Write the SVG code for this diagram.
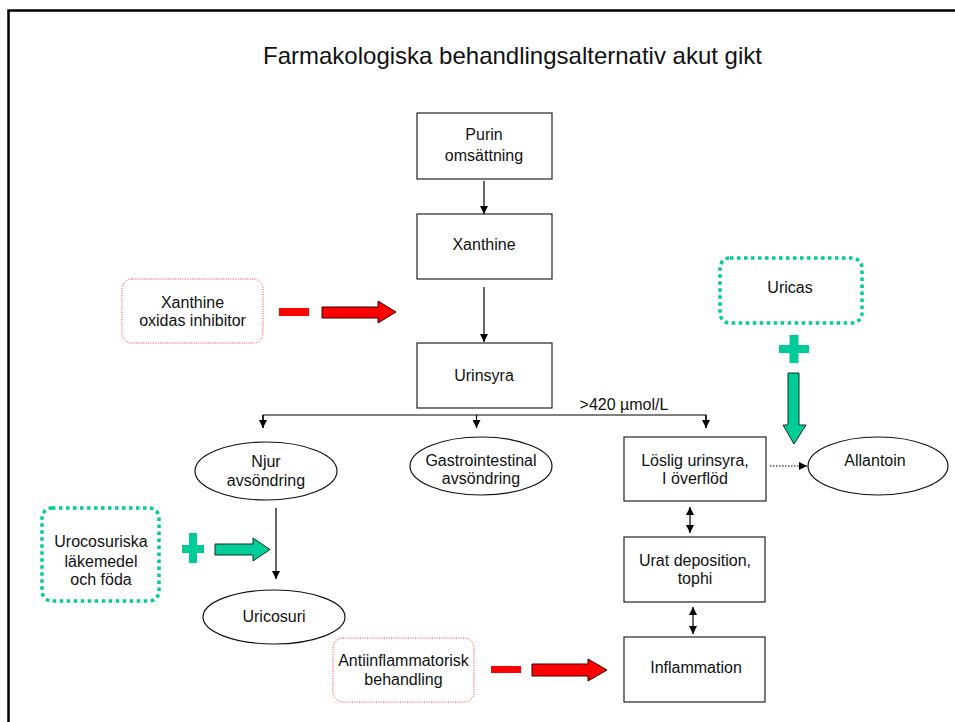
<svg xmlns="http://www.w3.org/2000/svg" width="955" height="722" viewBox="0 0 955 722">
<defs>
<marker id="ah" markerUnits="userSpaceOnUse" markerWidth="8" markerHeight="8" refX="8" refY="4" orient="auto">
<path d="M0,0 L8,4 L0,8 z" fill="#000"/>
</marker>
<marker id="ahs" markerUnits="userSpaceOnUse" markerWidth="8" markerHeight="8" refX="0" refY="4" orient="auto">
<path d="M8,0 L0,4 L8,8 z" fill="#000"/>
</marker>
</defs>
<style>
text{font-family:"Liberation Sans",Arial,sans-serif;font-size:16px;fill:#111;text-anchor:middle}
.title{font-size:24px}
.box{fill:#fff;stroke:#222;stroke-width:1.2}
.ell{fill:#fff;stroke:#111;stroke-width:1.2}
.conn{fill:none;stroke:#000;stroke-width:1.2}
.redbox{fill:#fff;stroke:#f55;stroke-width:1;stroke-dasharray:1.2 1.2}
.grnbox{fill:#fff;stroke:#00cc99;stroke-width:3.5;stroke-dasharray:3.5 3.5}
.red{fill:#ff0000}
.redarrow{fill:#ff0000;stroke:#330000;stroke-width:1}
.grn{fill:#00cc99}
.grnarrow{fill:#00cc99;stroke:#113322;stroke-width:1}
</style>
<rect x="0" y="0" width="955" height="722" fill="#fff"/>
<rect x="8.5" y="10.5" width="1000" height="800" fill="none" stroke="#000" stroke-width="2.5"/>
<text class="title" x="512.5" y="64">Farmakologiska behandlingsalternativ akut gikt</text>

<g id="connectors">
<line class="conn" x1="484" y1="181" x2="484" y2="214" marker-end="url(#ah)"/>
<line class="conn" x1="484" y1="287" x2="484" y2="342" marker-end="url(#ah)"/>
<polyline class="conn" points="263,428 263,415 706,415 706,428"/>
<line class="conn" x1="263" y1="415" x2="263" y2="428" marker-end="url(#ah)"/>
<line class="conn" x1="476.5" y1="415" x2="476.5" y2="428" marker-end="url(#ah)"/>
<line class="conn" x1="706" y1="415" x2="706" y2="428" marker-end="url(#ah)"/>
<line class="conn" x1="276" y1="508" x2="276" y2="579" marker-end="url(#ah)"/>
<line class="conn" x1="770" y1="466" x2="807" y2="466" stroke-dasharray="1.5 1.5" marker-end="url(#ah)"/>
<line class="conn" x1="690" y1="507" x2="690" y2="533" marker-start="url(#ahs)" marker-end="url(#ah)"/>
<line class="conn" x1="693" y1="607" x2="693" y2="634" marker-start="url(#ahs)" marker-end="url(#ah)"/>
</g>

<g id="purin">
<rect class="box" x="417" y="113" width="135" height="66"/>
<text x="484" y="140">Purin</text>
<text x="484" y="161">omsättning</text>
</g>
<g id="xanthine">
<rect class="box" x="417" y="214" width="135" height="65"/>
<text x="484" y="250">Xanthine</text>
</g>
<g id="urinsyra">
<rect class="box" x="417" y="343" width="135" height="65"/>
<text x="484" y="381">Urinsyra</text>
</g>
<text x="624" y="410">&gt;420 µmol/L</text>

<g id="xo-inhibitor">
<rect class="redbox" x="122" y="279" width="141" height="64" rx="10"/>
<text x="192.5" y="308">Xanthine</text>
<text x="192.5" y="326">oxidas inhibitor</text>
<rect class="red" x="279" y="308" width="30" height="8"/>
<polygon class="redarrow" points="322,307 378,307 378,301 396,312 378,323 378,318 322,318"/>
</g>

<g id="uricas">
<rect class="grnbox" x="720" y="258" width="142" height="65" rx="10"/>
<text x="790" y="293">Uricas</text>
<rect class="grn" x="779" y="345" width="30" height="8"/>
<rect class="grn" x="789.5" y="335" width="9" height="28"/>
<polygon class="grnarrow" points="788,373 799,373 799,425 806,425 794,444 783,425 788,425"/>
</g>

<g id="njur">
<ellipse class="ell" cx="266" cy="471" rx="71" ry="29"/>
<text x="266" y="467">Njur</text>
<text x="266" y="486">avsöndring</text>
</g>
<g id="gastro">
<ellipse class="ell" cx="481" cy="466" rx="71" ry="29"/>
<text x="481" y="466">Gastrointestinal</text>
<text x="481" y="484">avsöndring</text>
</g>
<g id="loslig">
<rect class="box" x="624" y="437" width="142" height="64"/>
<text x="695" y="466">Löslig urinsyra,</text>
<text x="695" y="484">I överflöd</text>
</g>
<g id="allantoin">
<ellipse class="ell" cx="878" cy="466" rx="70" ry="29"/>
<text x="875" y="466">Allantoin</text>
</g>

<g id="urocosuriska">
<rect class="grnbox" x="42" y="508" width="117" height="93" rx="10"/>
<text x="101" y="547">Urocosuriska</text>
<text x="101" y="567">läkemedel</text>
<text x="101" y="585">och föda</text>
<rect class="grn" x="182" y="545" width="22" height="8"/>
<rect class="grn" x="189" y="533" width="8" height="30"/>
<polygon class="grnarrow" points="215,544 253,544 253,538 270,549.5 253,561 253,555 215,555"/>
</g>
<g id="uricosuri">
<ellipse class="ell" cx="274" cy="617" rx="71" ry="27"/>
<text x="274" y="622">Uricosuri</text>
</g>

<g id="urat">
<rect class="box" x="624" y="537" width="141" height="65"/>
<text x="695" y="566">Urat deposition,</text>
<text x="695" y="584">tophi</text>
</g>
<g id="inflammation">
<rect class="box" x="624" y="637" width="141" height="65"/>
<text x="696" y="673">Inflammation</text>
</g>
<g id="antiinflammatorisk">
<rect class="redbox" x="333" y="638" width="141" height="64" rx="10"/>
<text x="403.5" y="666">Antiinflammatorisk</text>
<text x="403.5" y="685">behandling</text>
<rect class="red" x="491" y="666" width="30" height="7"/>
<polygon class="redarrow" points="532,664 588,664 588,659 607,670 588,681 588,676 532,676"/>
</g>
</svg>
